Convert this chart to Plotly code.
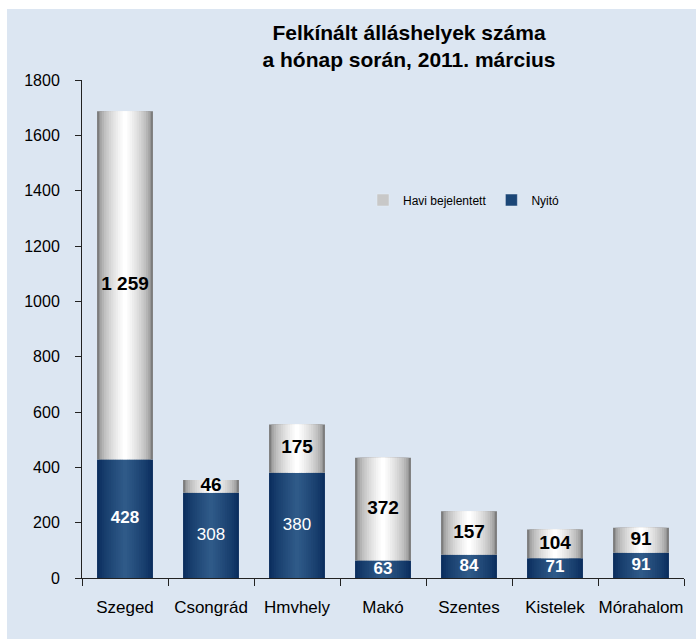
import plotly.graph_objects as go

categories = ["Szeged", "Csongrád", "Hmvhely", "Makó", "Szentes", "Kistelek", "Mórahalom"]
nyito = [428, 308, 380, 63, 84, 71, 91]
havi = [1259, 46, 175, 372, 157, 104, 91]
nyito_bold = [True, False, False, True, True, True, True]

W, H = 696, 639
L, R, T, B = 82, 12, 80, 61
BAR_W = 0.65
N_LAYERS = 12


def lerp(c1, c2, t):
    return "rgb(%d,%d,%d)" % tuple(round(a + (b - a) * t) for a, b in zip(c1, c2))


fig = go.Figure()

# gradient-like bars built from overlaid layers
gray_edge, gray_mid = (125, 125, 125), (255, 255, 255)
blue_edge, blue_mid = (11, 46, 94), (47, 90, 136)
for k in range(N_LAYERS):
    t = k / (N_LAYERS - 1)
    w = BAR_W * (1 - k / N_LAYERS)
    fig.add_trace(go.Bar(
        x=categories, y=nyito, base=[0] * len(nyito), width=w,
        marker=dict(color=lerp(blue_edge, blue_mid, t ** 0.8), line=dict(width=0)),
        showlegend=False, hoverinfo="skip"))
    fig.add_trace(go.Bar(
        x=categories, y=havi, base=nyito, width=w,
        marker=dict(color=lerp(gray_edge, gray_mid, t ** 0.5), line=dict(width=0)),
        showlegend=False, hoverinfo="skip"))

# legend entries
fig.add_trace(go.Bar(x=[None], y=[None], name="Havi bejelentett",
                     marker=dict(color="#c8c8c8"), legendrank=1))
fig.add_trace(go.Bar(x=[None], y=[None], name="Nyitó",
                     marker=dict(color="#1b4677"), legendrank=2))

# value labels
havi_mid = [n + h / 2 for n, h in zip(nyito, havi)]
havi_txt = [f"{v:,}".replace(",", " ") for v in havi]
fig.add_trace(go.Scatter(
    x=categories, y=havi_mid, mode="text", text=havi_txt,
    textfont=dict(family="Liberation Sans, Arial", size=19, color="black", weight="bold"),
    showlegend=False, hoverinfo="skip"))
nyito_mid = [n / 2 for n in nyito]
nyito_txt = [f"<b>{v}</b>" if b else str(v) for v, b in zip(nyito, nyito_bold)]
fig.add_trace(go.Scatter(
    x=categories, y=nyito_mid, mode="text", text=nyito_txt,
    textfont=dict(family="Liberation Sans, Arial", size=17, color="white"),
    showlegend=False, hoverinfo="skip"))

pw, ph = W - L - R, H - T - B
bg = "#dce6f2"
fig.add_shape(type="rect", xref="paper", yref="paper", layer="below",
              x0=(7 - L) / pw, x1=(W - L + 5) / pw,
              y0=-(B + 5) / ph, y1=(H - B - 9) / ph,
              fillcolor=bg, line=dict(width=0))

fig.update_layout(
    width=W, height=H,
    margin=dict(l=L, r=R, t=T, b=B, autoexpand=False),
    paper_bgcolor="white", plot_bgcolor=bg,
    barmode="overlay",
    font=dict(family="Liberation Sans, Arial", color="black"),
    title=dict(text="<b>Felkínált álláshelyek száma<br>a hónap során, 2011. március</b>",
               x=409 / W, xanchor="center", xref="container",
               y=1 - 40 / H, yanchor="top", yref="container",
               font=dict(size=21, color="black")),
    legend=dict(orientation="h", x=(363 - L) / pw, xanchor="left",
                y=(H - B - 200) / ph, yanchor="middle",
                bgcolor="rgba(0,0,0,0)", font=dict(size=12),
                itemwidth=30, traceorder="normal"),
    showlegend=True,
    xaxis=dict(type="category", showline=True, linecolor="#222", linewidth=1,
               ticks="outside", tickson="boundaries", ticklen=7, tickcolor="#222",
               tickfont=dict(size=17), tickangle=0, automargin=False,
               showgrid=False, zeroline=False, ticklabelstandoff=14),
    yaxis=dict(range=[0, 1800], dtick=200, showline=True, linecolor="#222", linewidth=1,
               ticks="outside", ticklen=6, tickcolor="#222", tickfont=dict(size=16),
               showgrid=False, zeroline=False, ticklabelstandoff=12, automargin=False),
)

fig.write_html("out.html", config={"displayModeBar": False},
               post_script="document.body.style.margin='0';")
